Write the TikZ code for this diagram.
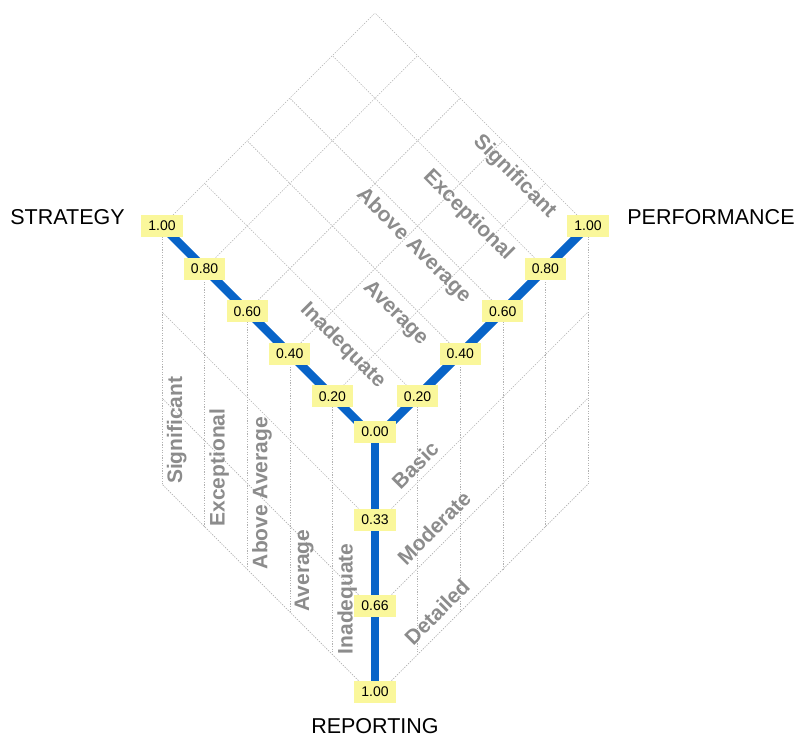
\documentclass[tikz,border=0pt]{standalone}
\usepackage{fontspec}
\setmainfont{Liberation Sans}
\usepackage{tikz}
\usetikzlibrary{positioning, calc}
\definecolor{axisblue}{RGB}{8,100,200}
\definecolor{tagyellow}{RGB}{250,247,155}
\definecolor{catgray}{RGB}{140,140,140}

\begin{document}
\begin{tikzpicture}[
    x=42.6pt, y=42.6pt,
    gridline/.style={draw=gray!60, line width=0.6pt, dash pattern=on 1.3pt off 1.3pt},
    axisline/.style={draw=axisblue, line width=8.5pt},
    tag/.style={rectangle, fill=tagyellow, inner xsep=7pt, inner ysep=0pt, minimum height=22pt, font=\fontsize{14}{16}\selectfont},
    axistitle/.style={font=\fontsize{21.5}{25}\selectfont},
    category/.style={text=catgray, inner sep=3pt, font=\fontsize{21}{24}\selectfont\bfseries}
]

    \useasboundingbox (-8.803,-7.019) rectangle (9.859,10.305);

    \coordinate (o) at (0,0);
    \foreach \i in {1,...,5} {
        \coordinate (s\i) at (-\i,\i);
        \coordinate (p\i) at (\i,\i);
    }
    \foreach \j in {1,2,3} \coordinate (r\j) at (0,-2.02*\j);

    % top face
    \foreach \i in {0,...,5} {
        \draw [gridline] (-\i,\i) -- ++(5,5);
        \draw [gridline] (\i,\i) -- ++(-5,5);
    }
    % side faces
    \foreach \i in {1,...,5} {
        \draw [gridline] (s\i) -- ++(0,-6.06);
        \draw [gridline] (p\i) -- ++(0,-6.06);
    }
    \foreach \j in {1,2,3} {
        \draw [gridline] (r\j) -- ++(-5,5);
        \draw [gridline] (r\j) -- ++(5,5);
    }

    \draw [axisline] (s5) -- (o) -- (p5);
    \draw [axisline] (o) -- (r3);

    \foreach \i/\v in {1/0.20, 2/0.40, 3/0.60, 4/0.80, 5/1.00} {
        \node [tag] (st\i) at (s\i) {\v};
        \node [tag] (pt\i) at (p\i) {\v};
    }
    \node [tag, yshift=7pt] (ot) at (o) {0.00};
    \foreach \j/\v in {1/0.33, 2/0.66, 3/1.00} \node [tag, yshift=5pt] (rt\j) at (r\j) {\v};

    \foreach \k/\t in {0/Inadequate, 1/Average, 2/Above Average, 3/Exceptional, 4/Significant} {
        \node [category, rotate=-45, anchor=south east] (perf\k) at (\k,\k+1) {\t};
        \node [category, rotate=90, anchor=north west] (strat\k) at (-\k-0.96,\k-5.13) {\t};
    }
    \node [category, rotate=45] (basic) at (0.94,-0.61) {Basic};
    \node [category, rotate=45] (moderate) at (1.385,-2.09) {Moderate};
    \node [category, rotate=45] (detailed) at (1.455,-4.06) {Detailed};

    \node [axistitle, left=13pt of st5, yshift=9pt] (strategy) {STRATEGY};
    \node [axistitle, right=15pt of pt5, yshift=9pt] (performance) {PERFORMANCE};
    \node [axistitle, below=12pt of rt3] (reporting) {REPORTING};

\end{tikzpicture}
\end{document}
